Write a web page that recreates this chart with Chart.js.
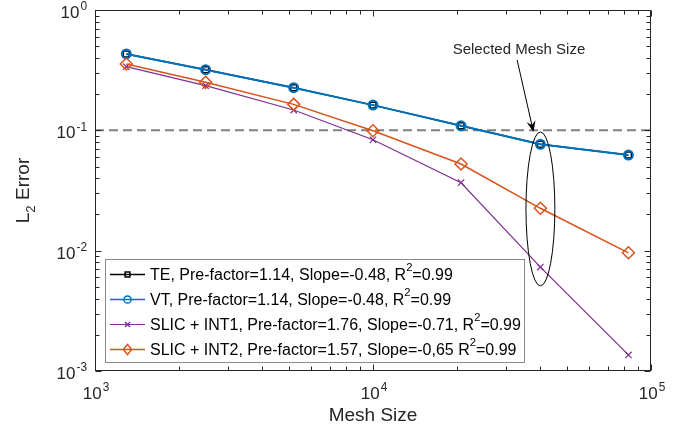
<!DOCTYPE html>
<html><head><meta charset="utf-8">
<script src="https://cdn.jsdelivr.net/npm/chart.js@4"></script>
<style>html,body{margin:0;padding:0;background:#fff}#wrap{width:688px;height:435px}</style>
</head><body><div id="wrap"><canvas id="c" width="688" height="435"></canvas></div>
<script>
// ---------------- data ----------------
const meshSizes = [1296, 2500, 5184, 10000, 20736, 40000, 82944];
const teError = [0.431, 0.319, 0.226, 0.162, 0.109, 0.0765, 0.0623];
const vtError = [0.431, 0.319, 0.226, 0.162, 0.109, 0.0765, 0.0623];
const slicInt1Error = [0.338, 0.235, 0.1475, 0.0835, 0.0367, 0.0073, 0.00136];
const slicInt2Error = [0.356, 0.2506, 0.1644, 0.0992, 0.0525, 0.0225, 0.0096];
const thresholdError = 0.1;
const xRange = [1e3, 1e5];
const yRange = [1e-3, 1];
const xTickValues = [1e3, 1e4, 1e5];
const xTickExps = ['3', '4', '5'];
const yTickValues = [1e-3, 1e-2, 1e-1, 1];
const yTickExps = ['-3', '-2', '-1', '0'];
const seriesLabels = [
  'TE, Pre-factor=1.14, Slope=-0.48, R^{2}=0.99',
  'VT, Pre-factor=1.14, Slope=-0.48, R^{2}=0.99',
  'SLIC + INT1, Pre-factor=1.76, Slope=-0.71, R^{2}=0.99',
  'SLIC + INT2, Pre-factor=1.57, Slope=-0,65 R^{2}=0.99'
];
const xTitle = 'Mesh Size';
const yTitleMain = 'L', yTitleSub = '2', yTitleRest = ' Error';
const annotationText = 'Selected Mesh Size';
const annotationTextAt = { x: 33500, y: 0.465 };
const arrowFrom = { x: 33000, y: 0.384 };
const arrowTo = { x: 37780, y: 0.0968 };
const ellipseBounds = { xMin: 35500, xMax: 45100, yMin: 0.0051, yMax: 0.097 };

// ---------------- styles ----------------
const FONT = '"Liberation Sans", Arial, Helvetica, sans-serif';
const AX = '#262626';
const TICK_FS = 17, TITLE_FS = 19, LEG_FS = 16, ANN_FS = 15;
const colors = ['#000000', '#0072BD', '#7E2F8E', '#D95319'];
const styles = [
  { pointStyle: 'rect', radius: 4.2, lw: 1.5, plw: 1.5 },
  { pointStyle: 'circle', radius: 4.5, lw: 2, plw: 2 },
  { pointStyle: 'crossRot', radius: 4.5, lw: 1.2, plw: 1.2 },
  { pointStyle: 'rectRot', radius: 6, lw: 1.5, plw: 1.5 }
];
const seriesData = [teError, vtError, slicInt1Error, slicInt2Error];
const pts = ys => meshSizes.map((x, i) => ({ x, y: ys[i] }));

const datasets = [{
  label: 'threshold',
  data: [{ x: xRange[0], y: thresholdError }, { x: xRange[1], y: thresholdError }],
  borderColor: '#808080', borderWidth: 2, borderDash: [9, 5], pointRadius: 0, order: 10
}];
seriesData.forEach((ys, i) => {
  datasets.push({
    label: seriesLabels[i], data: pts(ys),
    borderColor: colors[i], backgroundColor: 'rgba(0,0,0,0)',
    borderWidth: styles[i].lw, pointStyle: styles[i].pointStyle,
    pointRadius: styles[i].radius, pointBorderWidth: styles[i].plw,
    pointBorderColor: colors[i], pointBackgroundColor: 'rgba(0,0,0,0)',
    order: 4 - i, tension: 0
  });
});

function parseRich(s) {
  const parts = [];
  const re = /\^\{([^}]*)\}/g; let last = 0, m;
  while ((m = re.exec(s))) {
    if (m.index > last) parts.push({ t: s.slice(last, m.index), sup: false });
    parts.push({ t: m[1], sup: true });
    last = re.lastIndex;
  }
  if (last < s.length) parts.push({ t: s.slice(last), sup: false });
  return parts;
}
function drawRich(ctx, parts, x, y, size) {
  let cx = x;
  for (const p of parts) {
    const fs = p.sup ? size * 0.7 : size;
    ctx.font = fs + 'px ' + FONT;
    ctx.fillText(p.t, cx, p.sup ? y - size * 0.45 : y);
    cx += ctx.measureText(p.t).width;
  }
  return cx - x;
}
function drawPow(ctx, exp, x, y, size, align) {
  const es = size * 0.7;
  ctx.font = size + 'px ' + FONT; const wb = ctx.measureText('10').width;
  ctx.font = es + 'px ' + FONT; const we = ctx.measureText(exp).width;
  const total = wb + we + 1;
  let sx = align === 'right' ? x - total : x - total / 2;
  const base = y + size * 0.36;
  ctx.textAlign = 'left'; ctx.textBaseline = 'alphabetic';
  ctx.font = size + 'px ' + FONT; ctx.fillText('10', sx, base);
  ctx.font = es + 'px ' + FONT; ctx.fillText(exp, sx + wb + 1, base - size * 0.45);
}
function marker(ctx, style, x, y, r, color, lw) {
  ctx.save(); ctx.strokeStyle = color; ctx.lineWidth = lw; ctx.beginPath();
  if (style === 'rect') { const s = Math.SQRT1_2 * r; ctx.rect(x - s, y - s, 2 * s, 2 * s); }
  else if (style === 'circle') { ctx.arc(x, y, r, 0, Math.PI * 2); }
  else if (style === 'crossRot') { const s = r * Math.SQRT1_2; ctx.moveTo(x - s, y - s); ctx.lineTo(x + s, y + s); ctx.moveTo(x - s, y + s); ctx.lineTo(x + s, y - s); }
  else if (style === 'rectRot') { ctx.moveTo(x, y - r); ctx.lineTo(x + r * 0.8, y); ctx.lineTo(x, y + r); ctx.lineTo(x - r * 0.8, y); ctx.closePath(); }
  ctx.stroke(); ctx.restore();
}

const decor = {
  id: 'decor',
  afterDatasetsDraw(chart) {
    const ctx = chart.ctx, a = chart.chartArea, xs = chart.scales.x, ys = chart.scales.y;
    ctx.save();
    ctx.strokeStyle = AX; ctx.lineWidth = 1;
    const L = Math.round(a.left) + 0.5, R = Math.round(a.right) - 0.5, T = Math.round(a.top) + 0.5, B = Math.round(a.bottom) - 0.5;
    ctx.strokeRect(L, T, R - L, B - T);
    const maj = 6, mnr = 4;
    ctx.beginPath();
    for (let e = 3; e <= 5; e++) for (let k = 1; k <= 9; k++) {
      const v = k * Math.pow(10, e); if (v > xRange[1] * 1.0001) break;
      const px = Math.round(xs.getPixelForValue(v)) + 0.5; const len = k === 1 ? maj : mnr;
      ctx.moveTo(px, B); ctx.lineTo(px, B - len); ctx.moveTo(px, T); ctx.lineTo(px, T + len);
    }
    for (let e = -3; e <= 0; e++) for (let k = 1; k <= 9; k++) {
      const v = k * Math.pow(10, e); if (v > yRange[1] * 1.0001) break;
      const py = Math.round(ys.getPixelForValue(v)) + 0.5; const len = k === 1 ? maj : mnr;
      ctx.moveTo(L, py); ctx.lineTo(L + len, py); ctx.moveTo(R, py); ctx.lineTo(R - len, py);
    }
    ctx.stroke();
    ctx.fillStyle = AX;
    xTickValues.forEach((v, i) => drawPow(ctx, xTickExps[i], xs.getPixelForValue(v) + 1, a.bottom + 22, TICK_FS, 'center'));
    yTickValues.forEach((v, i) => drawPow(ctx, yTickExps[i], a.left - 8, ys.getPixelForValue(v) + 2, TICK_FS, 'right'));
    ctx.font = TITLE_FS + 'px ' + FONT; ctx.textAlign = 'center'; ctx.textBaseline = 'alphabetic';
    ctx.fillText(xTitle, (a.left + a.right) / 2, a.bottom + 50);
    ctx.save();
    ctx.translate(29, (a.top + a.bottom) / 2); ctx.rotate(-Math.PI / 2);
    ctx.textAlign = 'left';
    const sfs = TITLE_FS * 0.7;
    ctx.font = TITLE_FS + 'px ' + FONT; const w1 = ctx.measureText(yTitleMain).width;
    ctx.font = sfs + 'px ' + FONT; const w2 = ctx.measureText(yTitleSub).width;
    ctx.font = TITLE_FS + 'px ' + FONT; const w3 = ctx.measureText(yTitleRest).width;
    let sx = -(w1 + w2 + w3) / 2;
    ctx.fillText(yTitleMain, sx, 0);
    ctx.font = sfs + 'px ' + FONT; ctx.fillText(yTitleSub, sx + w1, 6);
    ctx.font = TITLE_FS + 'px ' + FONT; ctx.fillText(yTitleRest, sx + w1 + w2, 0);
    ctx.restore();
    ctx.fillStyle = AX; ctx.font = ANN_FS + 'px ' + FONT; ctx.textAlign = 'center'; ctx.textBaseline = 'middle';
    ctx.fillText(annotationText, xs.getPixelForValue(annotationTextAt.x), ys.getPixelForValue(annotationTextAt.y));
    const x0 = xs.getPixelForValue(arrowFrom.x), y0 = ys.getPixelForValue(arrowFrom.y);
    const x1 = xs.getPixelForValue(arrowTo.x), y1 = ys.getPixelForValue(arrowTo.y);
    const ang = Math.atan2(y1 - y0, x1 - x0), hl = 11, hw = 4.5;
    ctx.strokeStyle = '#000'; ctx.fillStyle = '#000'; ctx.lineWidth = 1;
    ctx.beginPath(); ctx.moveTo(x0, y0); ctx.lineTo(x1 - Math.cos(ang) * 6, y1 - Math.sin(ang) * 6); ctx.stroke();
    ctx.save(); ctx.translate(x1, y1); ctx.rotate(ang);
    ctx.beginPath(); ctx.moveTo(0, 0); ctx.lineTo(-hl, -hw); ctx.lineTo(-hl * 0.65, 0); ctx.lineTo(-hl, hw); ctx.closePath(); ctx.fill();
    ctx.restore();
    const ex0 = xs.getPixelForValue(ellipseBounds.xMin), ex1 = xs.getPixelForValue(ellipseBounds.xMax);
    const ey0 = ys.getPixelForValue(ellipseBounds.yMax), ey1 = ys.getPixelForValue(ellipseBounds.yMin);
    ctx.beginPath(); ctx.ellipse((ex0 + ex1) / 2, (ey0 + ey1) / 2, (ex1 - ex0) / 2, (ey1 - ey0) / 2, 0, 0, Math.PI * 2); ctx.stroke();
    const lx = a.left + 10, ly = 259.5, lw = 419, lh = 103;
    ctx.fillStyle = '#fff'; ctx.fillRect(lx, ly, lw, lh);
    ctx.strokeStyle = '#8a8a8a'; ctx.lineWidth = 1; ctx.strokeRect(Math.round(lx) + 0.5, ly, lw, lh);
    ctx.textAlign = 'left'; ctx.textBaseline = 'middle'; ctx.fillStyle = '#000';
    seriesLabels.forEach((lab, i) => {
      const ry = ly + 15 + i * 25;
      ctx.strokeStyle = colors[i]; ctx.lineWidth = Math.min(styles[i].lw, 1.5);
      ctx.beginPath(); ctx.moveTo(lx + 5, ry); ctx.lineTo(lx + 40, ry); ctx.stroke();
      marker(ctx, styles[i].pointStyle, lx + 22.5, ry, styles[i].radius * (i === 3 ? 0.85 : 0.8), colors[i], Math.min(styles[i].plw, 1.5));
      ctx.fillStyle = '#000';
      drawRich(ctx, parseRich(lab), lx + 45, ry + 1, LEG_FS);
    });
    ctx.restore();
  }
};

new Chart(document.getElementById('c'), {
  type: 'line',
  data: { datasets },
  options: {
    responsive: false, animation: false, devicePixelRatio: 1,
    layout: { padding: { left: 95, right: 37, top: 10, bottom: 64 } },
    plugins: { legend: { display: false }, tooltip: { enabled: false } },
    scales: {
      x: { type: 'logarithmic', min: xRange[0], max: xRange[1], display: false },
      y: { type: 'logarithmic', min: yRange[0], max: yRange[1], display: false }
    }
  },
  plugins: [decor]
});
</script>
</body></html>
